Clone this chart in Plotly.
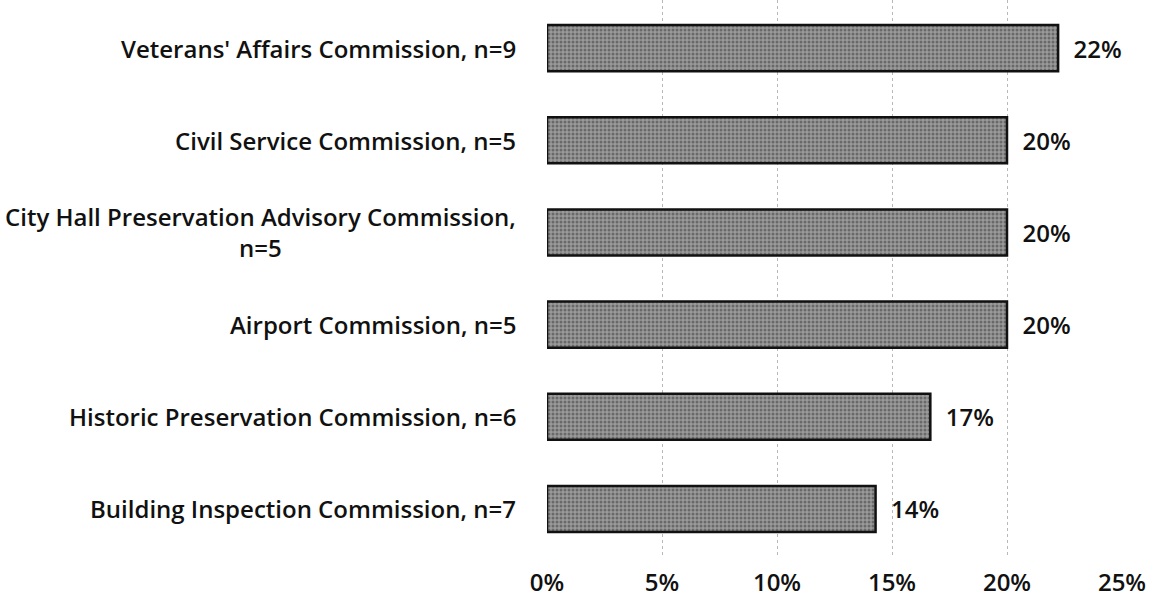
import plotly.graph_objects as go

categories = [
    "Building Inspection Commission, n=7",
    "Historic Preservation Commission, n=6",
    "Airport Commission, n=5",
    "City Hall Preservation Advisory Commission,<br>n=5",
    "Civil Service Commission, n=5",
    "Veterans' Affairs Commission, n=9",
]
values = [1/7, 1/6, 1/5, 1/5, 1/5, 2/9]
x_ticks = [0, 0.05, 0.10, 0.15, 0.20, 0.25]
x_tick_labels = ["0%", "5%", "10%", "15%", "20%", "25%"]

FONT = "Open Sans"
FS = 24
fig = go.Figure()
fig.add_trace(go.Bar(
    y=list(range(len(categories))), x=values, orientation="h",
    marker=dict(color="#858585", line=dict(color="#111", width=2.5),
                pattern=dict(shape=".", fgcolor="#383838", bgcolor="#9a9a9a", size=4, solidity=0.45)),
    texttemplate="  %{x:.0%}", textposition="outside",
    textfont=dict(family=FONT, size=FS, color="#111", weight=600),
    cliponaxis=False, width=0.5,
))

for i, c in enumerate(categories):
    fig.add_annotation(x=0, xref="paper", y=i, yref="y", text=c, showarrow=False,
                       xanchor="right", align="center", xshift=-29,
                       font=dict(family=FONT, size=FS, color="#111", weight=600))

fig.update_layout(
    width=1158, height=602,
    margin=dict(l=547, r=36, t=0, b=47),
    plot_bgcolor="white", paper_bgcolor="white",
    showlegend=False,
    font=dict(family=FONT, size=FS, color="#111"),
)
fig.update_xaxes(range=[0, 0.25], tickvals=x_ticks, ticktext=x_tick_labels,
                 showgrid=True, gridcolor="#b8b8b8", griddash="dot", gridwidth=1,
                 zeroline=False, showline=False, ticks="", ticklabelstandoff=11,
                 tickfont=dict(family=FONT, size=FS, color="#111", weight=600))
fig.update_yaxes(range=[-0.5, 5.522], showticklabels=False, showgrid=False,
                 zeroline=False, showline=False)
fig.write_html("out.html", config={"displayModeBar": False},
               post_script="document.body.style.margin='0px';")
